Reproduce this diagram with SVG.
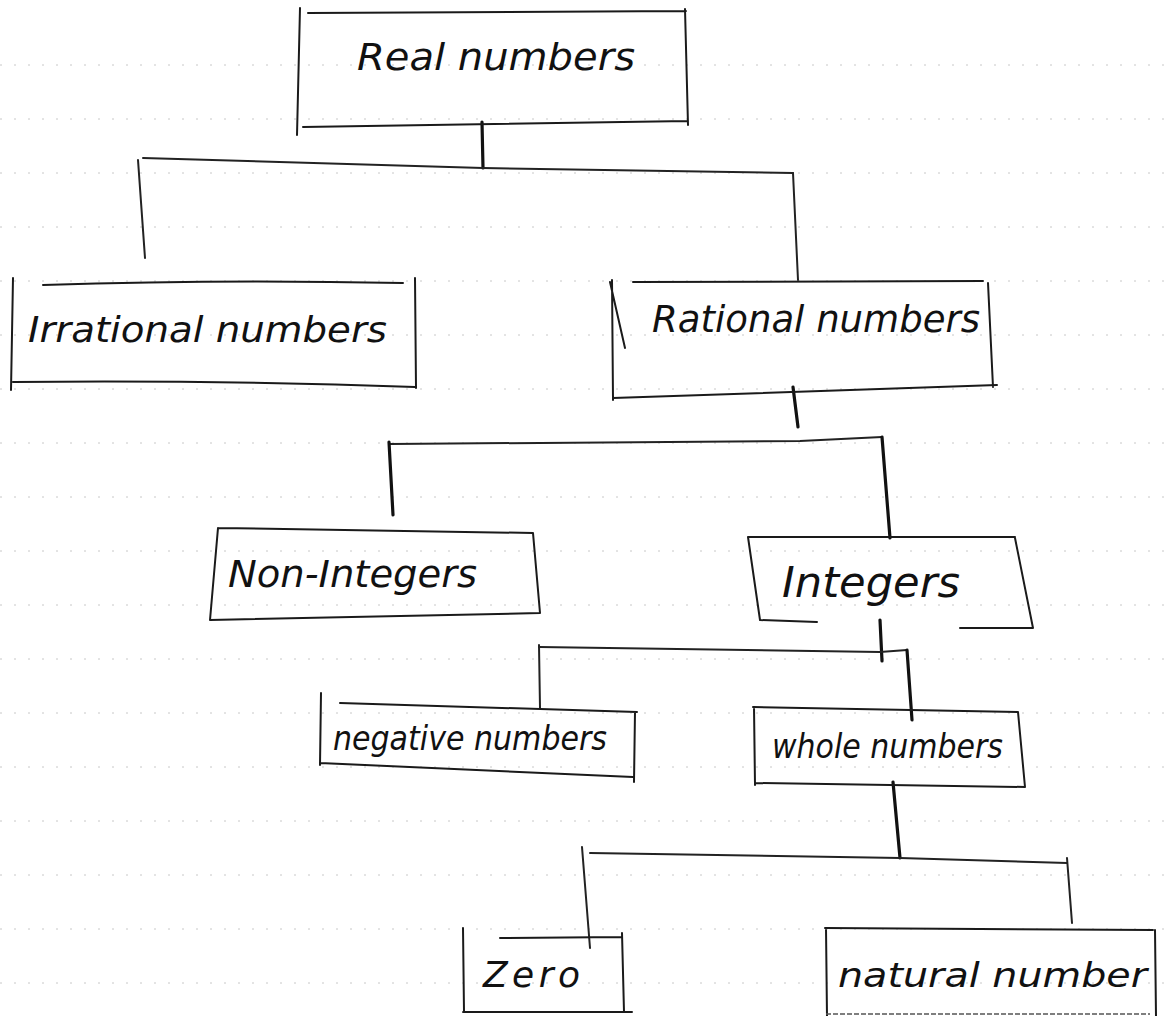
<svg xmlns="http://www.w3.org/2000/svg" width="1164" height="1016" viewBox="0 0 1164 1016">
<style>
.paper{stroke:#c8c8c8;stroke-width:1;stroke-dasharray:2 12;fill:none}
.box{stroke:#1a1a1a;stroke-width:2;fill:none;stroke-linecap:round;stroke-linejoin:round}
.faint{stroke:#555;stroke-width:1.4;fill:none;stroke-dasharray:5 2}
.conn{stroke:#111;stroke-width:3.2;fill:none;stroke-linecap:round;stroke-linejoin:round}
.thin{stroke:#222;stroke-width:2;fill:none;stroke-linecap:round}
.lbl{font-family:"DejaVu Sans","Liberation Sans",sans-serif;fill:#111;font-style:italic}
</style>
<rect width="1164" height="1016" fill="#ffffff"/>
<g id="paper">
<path class="paper" d="M0,65H1164M0,119H1164M0,173H1164M0,227H1164M0,281H1164M0,335H1164M0,389H1164M0,443H1164M0,497H1164M0,551H1164M0,605H1164M0,659H1164M0,713H1164M0,767H1164M0,821H1164M0,875H1164M0,929H1164M0,983H1164"/>
</g>
<g id="connectors">
<path class="conn" d="M482,122L483,168"/>
<path class="thin" d="M143,158L483,168L793,173"/>
<path class="thin" d="M138,160L145,258"/>
<path class="thin" d="M793,173L798,280"/>
<path class="conn" d="M793,387L798,427"/>
<path class="thin" d="M390,444L800,441L882,437"/>
<path class="conn" d="M389,442L393,515"/>
<path class="conn" d="M882,437L890,538"/>
<path class="conn" d="M880,620L882,661"/>
<path class="thin" d="M539,647L880,652L907,650"/>
<path class="thin" d="M539,645L540,708"/>
<path class="conn" d="M907,650L912,720"/>
<path class="conn" d="M893,782L900,858"/>
<path class="thin" d="M590,853L900,858L1067,863"/>
<path class="thin" d="M582,847L590,948"/>
<path class="thin" d="M1067,858L1072,923"/>
</g>
<g id="real">
<path class="box" d="M300,8L297,135M308,13L686,11M685,9L688,125M303,127L688,121"/>
<text class="lbl" x="357" y="70" font-size="38" textLength="278" lengthAdjust="spacingAndGlyphs">Real numbers</text>
</g>
<g id="irrational">
<path class="box" d="M13,278L11,390M43,285Q220,279 403,283M415,278L416,388M13,382Q220,380 415,387"/>
<text class="lbl" x="28" y="342" font-size="36" textLength="359" lengthAdjust="spacingAndGlyphs">Irrational numbers</text>
</g>
<g id="rational">
<path class="box" d="M612,280L613,400M610,282L625,348M633,282L983,281M988,283L993,387M613,398L997,385"/>
<text class="lbl" x="652" y="332" font-size="38" textLength="328" lengthAdjust="spacingAndGlyphs">Rational numbers</text>
</g>
<g id="non-integers">
<path class="box" d="M218,528L533,533M218,528L210,620M533,533L540,613M210,620L540,613"/>
<text class="lbl" x="228" y="587" font-size="38" textLength="249" lengthAdjust="spacingAndGlyphs">Non-Integers</text>
</g>
<g id="integers">
<path class="box" d="M748,537L1015,537M748,537L760,620M1015,538L1033,628M760,620L817,622M960,628L1033,628"/>
<text class="lbl" x="782" y="597" font-size="42" textLength="178" lengthAdjust="spacingAndGlyphs">Integers</text>
</g>
<g id="negative">
<path class="box" d="M340,703L637,712M321,693L320,765M635,712L634,782M320,763L633,777"/>
<text class="lbl" x="333" y="750" font-size="33" textLength="274" lengthAdjust="spacingAndGlyphs">negative numbers</text>
</g>
<g id="whole">
<path class="box" d="M753,707L1018,712M754,707L755,785M1018,712L1025,787M755,783L1025,787"/>
<text class="lbl" x="772" y="758" font-size="34" textLength="231" lengthAdjust="spacingAndGlyphs">whole numbers</text>
</g>
<g id="zero">
<path class="box" d="M463,928L464,1012M500,938L622,937M622,933L624,1012M463,1012L632,1012"/>
<text class="lbl" x="483" y="987" font-size="36" textLength="97" lengthAdjust="spacing">Zero</text>
</g>
<g id="natural">
<path class="box" d="M825,928L1153,930M826,928L827,1016M1155,930L1156,1016"/>
<path class="faint" d="M826,1014L1150,1014"/>
<text class="lbl" x="838" y="987" font-size="34" textLength="309" lengthAdjust="spacingAndGlyphs">natural number</text>
</g>
</svg>
